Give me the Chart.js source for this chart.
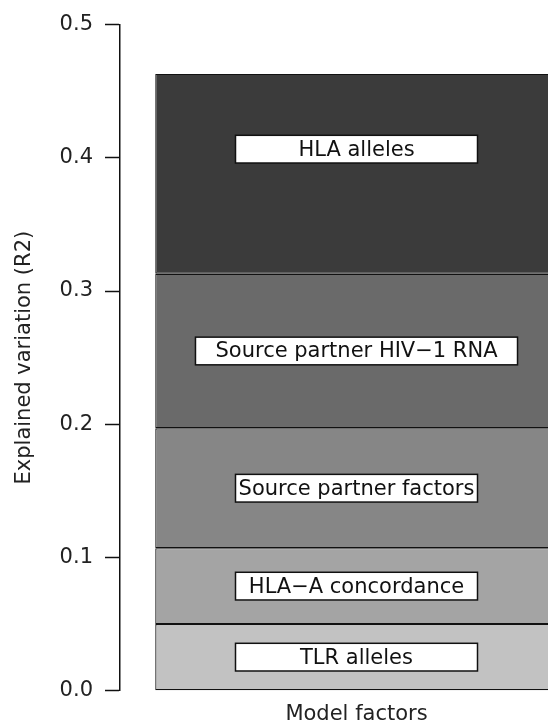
<!DOCTYPE html>
<html>
<head>
<meta charset="utf-8">
<title>Explained variation</title>
<script src="https://cdn.jsdelivr.net/npm/chart.js@4.4.0/dist/chart.umd.min.js"></script>
<style>
  html, body { margin: 0; padding: 0; background: #fff; overflow: hidden; }
  #wrap { width: 548px; height: 724px; overflow: hidden; position: relative; }
  #r2Chart { position: absolute; left: 0; top: 0; }
</style>
</head>
<body>
<div id="wrap"><canvas id="r2Chart" width="600" height="724"></canvas></div>
<script>
// data (stacked from the bottom)
const categories = ["Model factors"];
const factorNames = ["TLR alleles", "HLA\u2212A concordance", "Source partner factors", "Source partner HIV\u22121 RNA", "HLA alleles"];
const factorR2 = [0.050, 0.057, 0.090, 0.116, 0.150];
const yTicks = [0.0, 0.1, 0.2, 0.3, 0.4, 0.5];
const greys = ["#c2c2c2", "#a4a4a4", "#868686", "#6a6a6a", "#3b3b3b"];

const FONT = "DejaVu Sans";

// white boxes with the factor names, drawn in the middle of each segment
const segmentLabels = {
  id: "segmentLabels",
  afterDatasetsDraw(chart) {
    const ctx = chart.ctx;
    const yScale = chart.scales.y;
    ctx.save();
    ctx.font = "21px '" + FONT + "'";
    ctx.textAlign = "center";
    ctx.textBaseline = "middle";
    chart.data.datasets.forEach((ds, i) => {
      const bar = chart.getDatasetMeta(i).data[0];
      if (!bar) return;
      let top = bar.y;
      // top label sits between its base and the axis max (like the original)
      if (i === chart.data.datasets.length - 1) top = yScale.getPixelForValue(yScale.max);
      const cy = (top + bar.base) / 2;
      const tw = ctx.measureText(ds.label).width;
      // only the long HIV-1 RNA label gets a wider box
      const w = tw <= 265 ? 242 : tw + 40;
      const h = 27.7;
      ctx.fillStyle = "#fff";
      ctx.fillRect(bar.x - w / 2, cy - h / 2, w, h);
      ctx.strokeStyle = "#111";
      ctx.lineWidth = 1.5;
      ctx.strokeRect(bar.x - w / 2, cy - h / 2, w, h);
      ctx.fillStyle = "#111";
      ctx.fillText(ds.label, bar.x, cy + 1);
    });
    ctx.restore();
  }
};

document.addEventListener("DOMContentLoaded", function () {
  const ctx = document.getElementById("r2Chart");
  new Chart(ctx, {
    type: "bar",
    data: {
      labels: categories,
      datasets: factorNames.map((name, i) => ({
        label: name,
        data: [factorR2[i]],
        backgroundColor: greys[i],
        borderColor: "#111",
        borderWidth: 1.2,
        borderSkipped: false,
        barPercentage: 0.851,
        categoryPercentage: 1.0,
      })),
    },
    options: {
      responsive: false,
      animation: false,
      layout: { padding: { top: 23, right: 7, left: 0, bottom: 0 } },
      plugins: {
        legend: { display: false },
        tooltip: { enabled: false },
      },
      scales: {
        x: {
          stacked: true,
          afterFit: (s) => { s.height = 33.3; },
          grid: { display: false },
          border: { display: false },
          ticks: { display: false },
          title: {
            display: true,
            text: "Model factors",
            color: "#222",
            font: { family: FONT, size: 21 },
            padding: { top: 0, bottom: -3 },
          },
        },
        y: {
          stacked: true,
          min: 0,
          max: 0.5,
          afterBuildTicks: (s) => { s.ticks = yTicks.map((v) => ({ value: v })); },
          afterFit: (s) => { s.width = 120; },
          grid: {
            display: true,
            drawOnChartArea: false,
            drawTicks: true,
            tickLength: 15,
            tickWidth: 1.5,
            tickColor: "#111",
          },
          border: { display: true, color: "#111", width: 1.5 },
          ticks: {
            padding: 12,
            color: "#222",
            font: { family: FONT, size: 21 },
            callback: (v) => Number(v).toFixed(1),
          },
          title: {
            display: true,
            text: "Explained variation (R2)",
            color: "#222",
            font: { family: FONT, size: 21 },
            padding: { top: 12, bottom: 0 },
          },
        },
      },
    },
    plugins: [segmentLabels],
  });
});
</script>
</body>
</html>
